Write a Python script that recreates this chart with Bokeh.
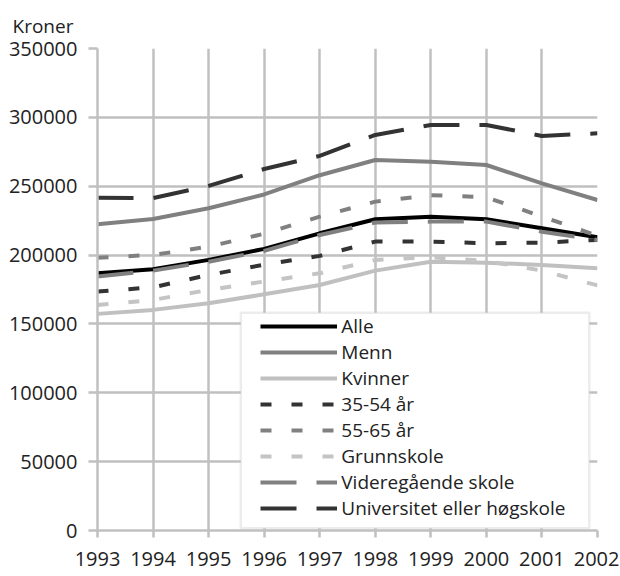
from bokeh.plotting import figure
from bokeh.models import (FixedTicker, BasicTickFormatter, Legend, LegendItem,
                          BoxAnnotation, Range1d)
from bokeh.embed import file_html
from bokeh.resources import INLINE

years = [1993, 1994, 1995, 1996, 1997, 1998, 1999, 2000, 2001, 2002]

alle = [186800, 189700, 196500, 204500, 215800, 226000, 227900, 226000, 219500, 213000]
menn = [222400, 226200, 234000, 244000, 258000, 269000, 267800, 265400, 252100, 240000]
kvinner = [157300, 160200, 165000, 171500, 178300, 188700, 195200, 194500, 192800, 190400]
alder_35_54 = [173500, 176600, 185600, 193000, 199400, 209800, 209800, 208600, 209000, 211000]
alder_55_65 = [198100, 200100, 206100, 215500, 227900, 238800, 243500, 242000, 228000, 214000]
grunnskole = [163800, 167400, 174700, 180800, 186800, 196500, 198400, 195700, 188700, 178000]
videregaende = [184400, 188700, 195200, 203000, 214600, 223600, 224300, 224300, 217000, 211000]
universitet = [241700, 241400, 250200, 262500, 272000, 287200, 294500, 294500, 286500, 288400]

y_ticks = [0, 50000, 100000, 150000, 200000, 250000, 300000, 350000]

series = [
    ("Alle", alle, "#000000", "solid"),
    ("Menn", menn, "#808080", "solid"),
    ("Kvinner", kvinner, "#c0c0c0", "solid"),
    ("35-54 år", alder_35_54, "#333333", "11 20"),
    ("55-65 år", alder_55_65, "#808080", "11 20"),
    ("Grunnskole", grunnskole, "#c4c4c4", "11 20"),
    ("Videregående skole", videregaende, "#808080", "36 20"),
    ("Universitet eller høgskole", universitet, "#333333", "36 20"),
]

FONT = "Open Sans"
GRID = "#c0c0c0"
TXT = "#222222"

p = figure(frame_width=500, frame_height=482,
           min_border_left=97, min_border_right=22,
           min_border_top=48, min_border_bottom=40,
           x_range=Range1d(1993, 2002), y_range=Range1d(0, 350000),
           output_backend="svg", toolbar_location=None,
           background_fill_color="white", border_fill_color="white")
p.outline_line_color = None

p.title.text = "Kroner"
p.title.align = "left"
p.title.offset = -85
p.title.text_font = FONT
p.title.text_font_size = "19px"
p.title.text_font_style = "normal"
p.title.text_color = TXT
p.title.standoff = 19

p.xaxis.ticker = FixedTicker(ticks=years)
p.yaxis.ticker = FixedTicker(ticks=y_ticks)
p.yaxis.formatter = BasicTickFormatter(use_scientific=False)
for ax in (p.xaxis, p.yaxis):
    ax.axis_line_color = GRID
    ax.axis_line_width = 2.5
    ax.major_tick_line_color = GRID
    ax.major_tick_line_width = 2.5
    ax.major_tick_in = 0
    ax.minor_tick_line_color = None
    ax.major_label_text_font = FONT
    ax.major_label_text_font_size = "20px"
    ax.major_label_text_color = TXT
p.xaxis.major_tick_out = 7
p.yaxis.major_tick_out = 9
p.yaxis.major_label_standoff = 11
p.xaxis.major_label_standoff = 14

for g in (p.xgrid, p.ygrid):
    g.grid_line_color = GRID
    g.grid_line_width = 2.5

items = []
for name, vals, color, dash in series:
    r = p.line(years, vals, line_color=color, line_width=4,
               line_dash=dash, line_join="round")
    items.append(LegendItem(label=name, renderers=[r]))

box = BoxAnnotation(left=143.3, right=491.8, bottom=2.2, top=217.7,
                    left_units="screen", right_units="screen",
                    bottom_units="screen", top_units="screen",
                    fill_color="white", fill_alpha=1.0,
                    line_color=GRID, line_width=2.5)
p.add_layout(box)

legend = Legend(items=items, location=(163.3, 9.5))
legend.padding = 0
legend.margin = 0
legend.spacing = 0
legend.glyph_width = 77
legend.glyph_height = 22
legend.label_height = 22
legend.label_standoff = 4
legend.label_text_font = FONT
legend.label_text_font_size = "19px"
legend.label_text_color = TXT
legend.border_line_color = None
legend.background_fill_alpha = 0
p.add_layout(legend)

open("out.html", "w").write(file_html(p, INLINE))
